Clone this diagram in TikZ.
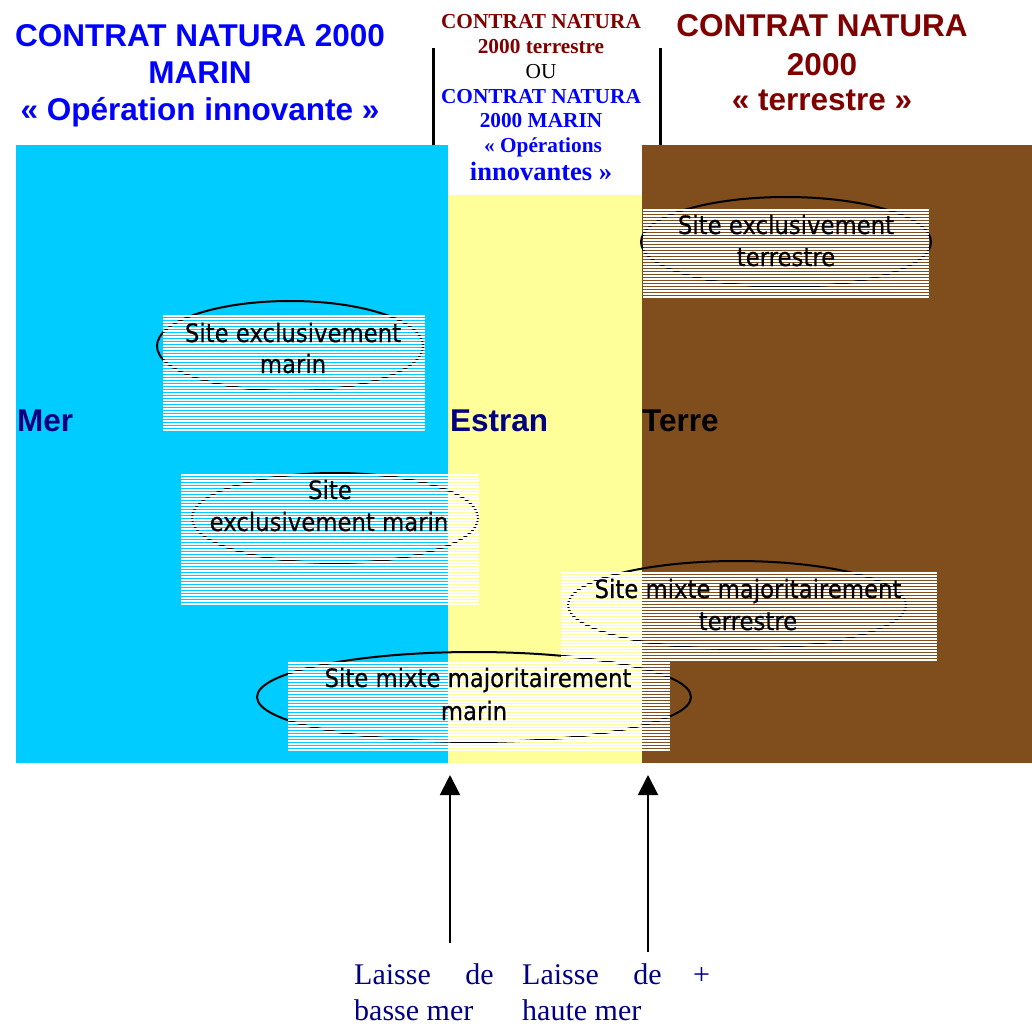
\documentclass[tikz,border=0pt]{standalone}
\usepackage{fontspec}
\setmainfont{Liberation Serif}
\newfontfamily\arialf{Liberation Sans}
\newfontfamily\sitef[FakeStretch=0.9, FakeBold=0.5]{DejaVu Sans}
\usetikzlibrary{arrows.meta}

\definecolor{seablue}{RGB}{0,204,255}
\definecolor{shore}{RGB}{255,255,153}
\definecolor{land}{RGB}{128,77,28}
\definecolor{maroon}{RGB}{128,0,0}
\definecolor{navyblue}{RGB}{0,0,128}
\definecolor{pureblue}{RGB}{0,0,255}

\tikzset{
  title/.style={font=\arialf\bfseries\fontsize{31.5}{37}\selectfont, inner sep=0pt, anchor=base},
  mid/.style={font=\bfseries\fontsize{21.3}{25}\selectfont, inner sep=0pt, anchor=base},
  zone/.style={font=\arialf\bfseries\fontsize{31.5}{37}\selectfont, inner sep=0pt, anchor=base west},
  sitetext/.style={font=\sitef\fontsize{25.3}{30}\selectfont, inner sep=0pt, anchor=base},
  tide/.style={font=\fontsize{30}{36}\selectfont, text=navyblue, inner sep=0pt},
  ring/.style={draw=black, line width=2pt},
  divider/.style={line width=3pt},
  tidearrow/.style={line width=2pt, -{Triangle[length=20pt,width=20pt]}},
}

% white horizontal stripes filling a box: x1, y1, x2, y2
\newcommand\hatchbox[4]{%
  \pgfmathtruncatemacro\nstripes{(#4-#2-2)/3}%
  \foreach \k in {0,...,\nstripes}
    \draw[white, line width=2pt] (#1,{#2+1+3*\k}) -- (#3,{#2+1+3*\k});
}

\begin{document}
\begin{tikzpicture}[x=1pt, y=-1pt]
\useasboundingbox (0,0) rectangle (1032,1025);

% the three zones
\fill[seablue] (16,145) rectangle (448,763);
\fill[shore] (448,195) rectangle (642,763);
\fill[land] (642,145) rectangle (1032,763);

% bars framing the middle heading
\draw[divider] (433,48) -- (433,145);
\draw[divider] (660,48) -- (660,145);

% headings
\node[title, text=pureblue] (lt1) at (200,47) {CONTRAT NATURA 2000};
\node[title, text=pureblue] (lt2) at (200,83) {MARIN};
\node[title, text=pureblue] (lt3) at (200,120) {« Opération innovante »};

\node[title, text=maroon] (rt1) at (822,37) {CONTRAT NATURA};
\node[title, text=maroon] (rt2) at (822,75) {2000};
\node[title, text=maroon] (rt3) at (822,110) {« terrestre »};

\node[mid, text=maroon] (m1) at (541,29) {CONTRAT NATURA};
\node[mid, text=maroon] (m2) at (541,53) {2000 terrestre};
\node[mid, font=\mdseries\fontsize{21.3}{25}\selectfont] (m3) at (541,78) {OU};
\node[mid, text=pureblue] (m4) at (541,103) {CONTRAT NATURA};
\node[mid, text=pureblue] (m5) at (541,127) {2000 MARIN};
\node[mid, text=pureblue] (m6) at (543,152) {« Opérations};
\node[mid, text=pureblue, font=\bfseries\fontsize{26.5}{30}\selectfont] (m7) at (541,180) {innovantes »};

% zone names
\node[zone, text=navyblue] (mer) at (17,431) {Mer};
\node[zone, text=navyblue] (estran) at (450,431) {Estran};
\node[zone, text=black] (terre) at (642,431) {Terre};

% site outlines
\draw[ring] (290,346) ellipse [x radius=133, y radius=45];
\draw[ring] (335,518) ellipse [x radius=143, y radius=45];
\draw[ring] (786,242) ellipse [x radius=145, y radius=45];
\draw[ring] (737,605) ellipse [x radius=169, y radius=44];
\draw[ring] (474,697) ellipse [x radius=217, y radius=45];

% striped label boxes
\hatchbox{163}{315}{425}{431}
\hatchbox{181}{474}{479}{607}
\hatchbox{643}{209}{929}{298}
\hatchbox{561}{572}{937}{661}
\hatchbox{288}{662}{670}{751}

% site labels
\node[sitetext] (a1) at (293,342) {Site exclusivement};
\node[sitetext] (a2) at (293,373) {marin};
\node[sitetext] (b1) at (330,499) {Site};
\node[sitetext] (b2) at (329,531) {exclusivement marin};
\node[sitetext] (c1) at (786,234) {Site exclusivement};
\node[sitetext] (c2) at (786,266) {terrestre};
\node[sitetext] (d1) at (748,598) {Site mixte majoritairement};
\node[sitetext] (d2) at (748,630) {terrestre};
\node[sitetext] (e1) at (478,687) {Site mixte majoritairement};
\node[sitetext] (e2) at (474,720) {marin};

% tide lines
\node[tide, anchor=base west] (lb1) at (354,984) {Laisse};
\node[tide, anchor=base east] (lb2) at (494,984) {de};
\node[tide, anchor=base west] (lb3) at (354,1020) {basse mer};
\node[tide, anchor=base west] (lh1) at (522,984) {Laisse};
\node[tide, anchor=base east] (lh2) at (662,984) {de};
\node[tide, anchor=base west] (lh3) at (522,1020) {haute mer};
\node[tide, anchor=base west] (plus) at (693,984) {+};

\coordinate (lowfoot) at (450,943);
\coordinate (lowtip) at (450,775);
\coordinate (highfoot) at (648,952);
\coordinate (hightip) at (648,775);
\draw[tidearrow] (lowfoot) -- (lowtip);
\draw[tidearrow] (highfoot) -- (hightip);
\end{tikzpicture}
\end{document}
